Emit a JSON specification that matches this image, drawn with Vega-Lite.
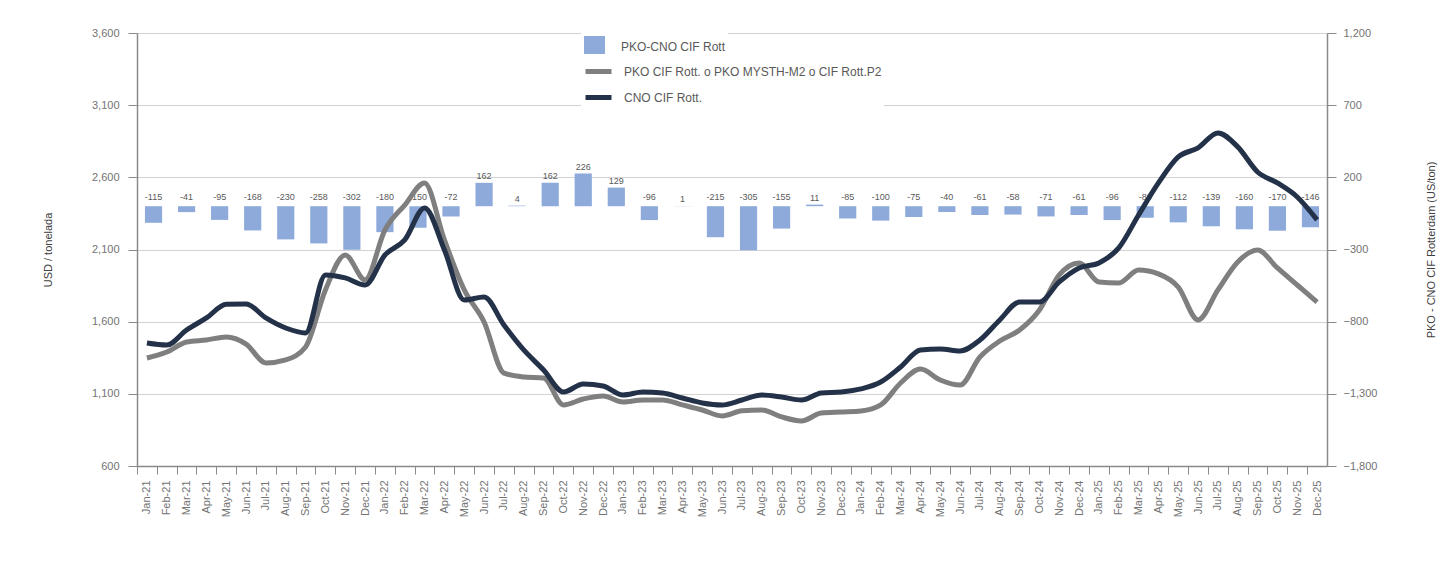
{
  "$schema": "https://vega.github.io/schema/vega-lite/v6.json",
  "autosize": {"type": "none"},
  "width": 1190,
  "height": 433,
  "padding": {"left": 137, "top": 33, "right": 120, "bottom": 100},
  "background": "white",
  "config": {
    "font": "Liberation Sans",
    "view": {"stroke": null},
    "axis": {
      "labelFont": "Liberation Sans",
      "labelFontSize": 11,
      "labelColor": "#737373",
      "domainColor": "#8a8a8a",
      "domainWidth": 1.5,
      "tickColor": "#8a8a8a",
      "gridColor": "#d2d2d2",
      "titleFont": "Liberation Sans",
      "titleFontSize": 11,
      "titleFontWeight": "normal",
      "titleColor": "#404040"
    },
    "legend": {"labelFont": "Liberation Sans", "labelFontSize": 12, "labelColor": "#595959", "labelLimit": 500}
  },
  "datasets": {
    "spread": [
      {"m": "Jan-21", "v": -115}, {"m": "Feb-21", "v": -41}, {"m": "Mar-21", "v": -95}, {"m": "Apr-21", "v": -168},
      {"m": "May-21", "v": -230}, {"m": "Jun-21", "v": -258}, {"m": "Jul-21", "v": -302}, {"m": "Aug-21", "v": -180},
      {"m": "Sep-21", "v": -150}, {"m": "Oct-21", "v": -72}, {"m": "Nov-21", "v": 162}, {"m": "Dec-21", "v": 4},
      {"m": "Jan-22", "v": 162}, {"m": "Feb-22", "v": 226}, {"m": "Mar-22", "v": 129}, {"m": "Apr-22", "v": -96},
      {"m": "May-22", "v": 1}, {"m": "Jun-22", "v": -215}, {"m": "Jul-22", "v": -305}, {"m": "Aug-22", "v": -155},
      {"m": "Sep-22", "v": 11}, {"m": "Oct-22", "v": -85}, {"m": "Nov-22", "v": -100}, {"m": "Dec-22", "v": -75},
      {"m": "Jan-23", "v": -40}, {"m": "Feb-23", "v": -61}, {"m": "Mar-23", "v": -58}, {"m": "Apr-23", "v": -71},
      {"m": "May-23", "v": -61}, {"m": "Jun-23", "v": -96}, {"m": "Jul-23", "v": -80}, {"m": "Aug-23", "v": -112},
      {"m": "Sep-23", "v": -139}, {"m": "Oct-23", "v": -160}, {"m": "Nov-23", "v": -170}, {"m": "Dec-23", "v": -146}
    ],
    "prices": [
      {"month": "Jan-21", "pko": 1348, "cno": 1452}, {"month": "Feb-21", "pko": 1390, "cno": 1438},
      {"month": "Mar-21", "pko": 1459, "cno": 1542}, {"month": "Apr-21", "pko": 1473, "cno": 1626},
      {"month": "May-21", "pko": 1494, "cno": 1720}, {"month": "Jun-21", "pko": 1445, "cno": 1723},
      {"month": "Jul-21", "pko": 1314, "cno": 1626}, {"month": "Aug-21", "pko": 1335, "cno": 1556},
      {"month": "Sep-21", "pko": 1425, "cno": 1522}, {"month": "Oct-21", "pko": 1820, "cno": 1924},
      {"month": "Nov-21", "pko": 2062, "cno": 1903}, {"month": "Dec-21", "pko": 1890, "cno": 1854},
      {"month": "Jan-22", "pko": 2235, "cno": 2062}, {"month": "Feb-22", "pko": 2408, "cno": 2166},
      {"month": "Mar-22", "pko": 2561, "cno": 2388}, {"month": "Apr-22", "pko": 2166, "cno": 2097},
      {"month": "May-22", "pko": 1820, "cno": 1750}, {"month": "Jun-22", "pko": 1598, "cno": 1771},
      {"month": "Jul-22", "pko": 1244, "cno": 1577}, {"month": "Aug-22", "pko": 1217, "cno": 1404},
      {"month": "Sep-22", "pko": 1210, "cno": 1265}, {"month": "Oct-22", "pko": 1023, "cno": 1113},
      {"month": "Nov-22", "pko": 1064, "cno": 1168}, {"month": "Dec-22", "pko": 1085, "cno": 1154},
      {"month": "Jan-23", "pko": 1044, "cno": 1092}, {"month": "Feb-23", "pko": 1057, "cno": 1113},
      {"month": "Mar-23", "pko": 1057, "cno": 1106}, {"month": "Apr-23", "pko": 1023, "cno": 1071},
      {"month": "May-23", "pko": 988, "cno": 1037}, {"month": "Jun-23", "pko": 947, "cno": 1023},
      {"month": "Jul-23", "pko": 982, "cno": 1057}, {"month": "Aug-23", "pko": 988, "cno": 1092},
      {"month": "Sep-23", "pko": 940, "cno": 1078}, {"month": "Oct-23", "pko": 912, "cno": 1057},
      {"month": "Nov-23", "pko": 967, "cno": 1106}, {"month": "Dec-23", "pko": 974, "cno": 1113},
      {"month": "Jan-24", "pko": 981, "cno": 1134}, {"month": "Feb-24", "pko": 1023, "cno": 1182},
      {"month": "Mar-24", "pko": 1175, "cno": 1286}, {"month": "Apr-24", "pko": 1272, "cno": 1404},
      {"month": "May-24", "pko": 1196, "cno": 1411}, {"month": "Jun-24", "pko": 1161, "cno": 1397},
      {"month": "Jul-24", "pko": 1355, "cno": 1473}, {"month": "Aug-24", "pko": 1466, "cno": 1612},
      {"month": "Sep-24", "pko": 1542, "cno": 1736}, {"month": "Oct-24", "pko": 1681, "cno": 1736},
      {"month": "Nov-24", "pko": 1924, "cno": 1875}, {"month": "Dec-24", "pko": 2007, "cno": 1972},
      {"month": "Jan-25", "pko": 1875, "cno": 2007}, {"month": "Feb-25", "pko": 1868, "cno": 2111},
      {"month": "Mar-25", "pko": 1958, "cno": 2339}, {"month": "Apr-25", "pko": 1931, "cno": 2561},
      {"month": "May-25", "pko": 1840, "cno": 2741}, {"month": "Jun-25", "pko": 1612, "cno": 2804},
      {"month": "Jul-25", "pko": 1820, "cno": 2908}, {"month": "Aug-25", "pko": 2014, "cno": 2811},
      {"month": "Sep-25", "pko": 2097, "cno": 2637}, {"month": "Oct-25", "pko": 1972, "cno": 2561},
      {"month": "Nov-25", "pko": 1854, "cno": 2464}, {"month": "Dec-25", "pko": 1736, "cno": 2305}
    ]
  },
  "layer": [
    {
      "data": {"name": "spread"},
      "encoding": {
        "x": {"field": "m", "type": "ordinal", "sort": null, "axis": null,
              "scale": {"type": "band", "paddingInner": 0.48, "paddingOuter": 0.24}}
      },
      "layer": [
        {
          "mark": {"type": "bar"},
          "encoding": {
            "y": {"field": "v", "type": "quantitative",
                  "scale": {"domain": [-1800, 1200], "nice": false, "zero": false},
                  "axis": {"orient": "right", "values": [-1800, -1300, -800, -300, 200, 700, 1200], "format": ",.0f",
                           "grid": false, "tickSize": 9, "labelPadding": 7,
                           "title": "PKO - CNO CIF Rotterdam (US/ton)", "titleAngle": 270, "titlePadding": 60}},
            "fill": {"datum": "PKO-CNO CIF Rott",
                     "scale": {"domain": ["PKO-CNO CIF Rott"], "range": ["#8eaadb"]},
                     "legend": {"title": null, "orient": "none", "legendX": 444, "legendY": 0,
                                "fillColor": "white", "padding": 2, "symbolType": "square", "symbolSize": 440,
                                "labelOffset": 15}}
          }
        },
        {
          "transform": [{"filter": "datum.v >= 0"}],
          "mark": {"type": "text", "baseline": "bottom", "dy": -2, "fontSize": 9, "fill": "#595959"},
          "encoding": {
            "y": {"field": "v", "type": "quantitative"},
            "text": {"field": "v", "type": "nominal"}
          }
        },
        {
          "transform": [{"filter": "datum.v < 0"}],
          "mark": {"type": "text", "baseline": "bottom", "dy": -4, "fontSize": 9, "fill": "#595959"},
          "encoding": {
            "y": {"datum": 0, "type": "quantitative"},
            "text": {"field": "v", "type": "nominal"}
          }
        }
      ]
    },
    {
      "data": {"name": "prices"},
      "encoding": {
        "x": {"field": "month", "type": "ordinal", "sort": null,
              "scale": {"type": "point", "padding": 0.5},
              "axis": {"title": null, "labelAngle": -90, "tickSize": 8, "labelPadding": 6,
                       "tickOffset": -9.92, "labelOffset": 9.92, "labelFontSize": 11}}
      },
      "layer": [
        {
          "mark": {"type": "line", "strokeWidth": 5, "interpolate": "monotone", "strokeJoin": "round"},
          "encoding": {
            "y": {"field": "pko", "type": "quantitative",
                  "scale": {"domain": [600, 3600], "nice": false, "zero": false},
                  "axis": {"orient": "left", "values": [600, 1100, 1600, 2100, 2600, 3100, 3600], "format": ",.0f",
                           "grid": true, "tickSize": 9, "labelPadding": 9,
                           "title": "USD / tonelada", "titlePadding": 38}},
            "stroke": {"datum": "PKO CIF Rott. o PKO MYSTH-M2 o CIF Rott.P2",
                       "scale": {"domain": ["PKO CIF Rott. o PKO MYSTH-M2 o CIF Rott.P2", "CNO CIF Rott."],
                                 "range": ["#7f7f7f", "#243249"]},
                       "legend": {"title": null, "orient": "none", "legendX": 444, "legendY": 21,
                                  "fillColor": "white", "padding": 2, "symbolType": "stroke", "symbolSize": 676,
                                  "symbolStrokeWidth": 5, "rowPadding": 0, "labelOffset": 10}}
          }
        },
        {
          "mark": {"type": "line", "strokeWidth": 5, "interpolate": "monotone", "strokeJoin": "round"},
          "encoding": {
            "y": {"field": "cno", "type": "quantitative"},
            "stroke": {"datum": "CNO CIF Rott."}
          }
        }
      ]
    }
  ],
  "resolve": {"scale": {"x": "independent", "y": "independent", "fill": "shared", "stroke": "shared"}}
}
